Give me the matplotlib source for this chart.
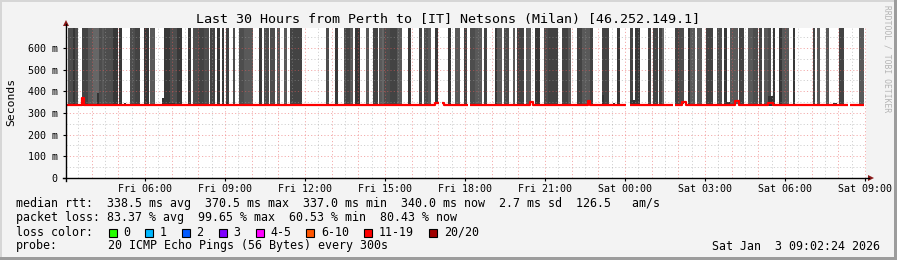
import numpy as np
import matplotlib
matplotlib.use("Agg")
import matplotlib.pyplot as plt
from matplotlib.patches import Rectangle, Polygon
from matplotlib.lines import Line2D

MONO = "DejaVu Sans Mono"
W, H = 897, 260

TITLE = "Last 30 Hours from Perth to [IT] Netsons (Milan) [46.252.149.1]"
START_H = 3 + 2.4 / 60          # window start, hours after Fri 00:00 (Fri 03:02:24)
SPAN_H = 30
STEP_H = 5 / 60                 # one sample every 300 s
N_STEPS = 360

# smoke columns: (first step, end step, shade)
SMOKE_RUNS = [
    (1, 3, "c"), (3, 4, "a"), (4, 5, "c"), (7, 10, "b"), (10, 12, "d"),
    (12, 15, "e"), (15, 16, "c"), (16, 17, "d"), (17, 21, "c"), (21, 23, "a"),
    (24, 25, "a"), (29, 31, "c"), (31, 33, "b"), (35, 37, "a"), (38, 40, "d"),
    (44, 47, "a"), (47, 50, "c"), (50, 52, "a"), (55, 56, "a"), (57, 60, "c"),
    (60, 62, "b"), (62, 64, "c"), (65, 67, "b"), (68, 69, "a"), (70, 71, "a"),
    (72, 73, "b"), (75, 76, "c"), (78, 80, "c"), (80, 84, "d"), (87, 88, "a"),
    (89, 91, "c"), (92, 94, "c"), (95, 96, "d"), (98, 99, "d"), (101, 106, "b"),
    (117, 118, "c"), (121, 122, "a"), (125, 126, "c"), (126, 128, "b"),
    (128, 129, "d"), (130, 132, "a"), (135, 136, "d"), (138, 140, "b"),
    (141, 142, "d"), (142, 143, "e"), (143, 146, "c"), (146, 149, "b"),
    (149, 151, "d"), (154, 155, "a"), (159, 160, "b"), (161, 163, "c"),
    (163, 164, "d"), (166, 167, "a"), (172, 173, "a"), (175, 177, "d"),
    (179, 180, "b"), (182, 184, "c"), (184, 187, "d"), (188, 189, "b"),
    (193, 194, "a"), (194, 196, "d"), (197, 199, "c"), (201, 202, "d"),
    (203, 206, "b"), (207, 209, "d"), (211, 213, "a"), (215, 217, "c"),
    (217, 221, "b"), (223, 226, "b"), (226, 227, "d"), (230, 232, "b"),
    (232, 236, "d"), (236, 237, "b"), (241, 244, "b"), (248, 249, "a"),
    (254, 255, "b"), (256, 258, "a"), (262, 263, "b"), (264, 266, "b"),
    (267, 268, "b"), (268, 269, "e"), (274, 276, "b"), (276, 278, "c"),
    (280, 281, "a"), (281, 283, "d"), (284, 286, "d"), (288, 291, "b"),
    (293, 295, "c"), (296, 297, "a"), (299, 302, "d"), (303, 305, "b"),
    (307, 309, "d"), (309, 311, "c"), (312, 313, "b"), (314, 316, "d"),
    (316, 317, "c"), (318, 319, "a"), (321, 322, "a"), (322, 325, "d"),
    (327, 328, "a"), (336, 337, "b"), (338, 339, "d"), (342, 343, "d"),
    (348, 350, "b"), (357, 359, "d"),
]
SHADES = {"a": "#383838", "b": "#434343", "c": "#4d4d4d",
          "d": "#595959", "e": "#666666"}
SMOKE_TOP_MS = 692

# short smoke tips just above the median: (step, top in ms)
SMOKE_TIPS = [
    (7, 370), (14, 393), (26, 347), (43, 370), (46, 347), (47, 347), (48, 347),
    (68, 348), (72, 350), (241, 383), (246, 347), (254, 360), (255, 360),
    (297, 350), (298, 350), (316, 378), (317, 378), (345, 347), (346, 347),
]

# median rtt in ms as runs (first step, end step, value); None = no data
MEDIAN_RUNS = [
    (0, 7, 339), (7, 8, 370), (8, 166, 339), (166, 168, 348), (168, 169, None),
    (169, 170, 348), (170, 181, 339), (181, 182, None), (182, 209, 339),
    (209, 210, 349), (210, 235, 339), (235, 236, 355), (236, 252, 339),
    (252, 254, None), (254, 273, 339), (273, 274, None), (274, 277, 339),
    (277, 279, 351), (279, 301, 339), (301, 303, 355), (303, 316, 339),
    (316, 318, 347), (318, 352, 339), (352, 353, None), (353, 359, 339),
]

Y_TICKS_MS = [0, 100, 200, 300, 400, 500, 600]
Y_MAX_MS = 692
X_LABEL_HOURS = [6, 9, 12, 15, 18, 21, 24, 27, 30, 33]

LEGEND_LINES = [
    "median rtt:  338.5 ms avg  370.5 ms max  337.0 ms min  340.0 ms now  2.7 ms sd  126.5   am/s",
    "packet loss: 83.37 % avg  99.65 % max  60.53 % min  80.43 % now",
]
LOSS_LABELS = ["0", "1", "2", "3", "4-5", "6-10", "11-19", "20/20"]
LOSS_COLORS = ["#26ff00", "#00b8ff", "#0059ff", "#7e00ff", "#ff00ff",
               "#ff5500", "#ff0000", "#a00000"]
PROBE = "20 ICMP Echo Pings (56 Bytes) every 300s"
STAMP = "Sat Jan  3 09:02:24 2026"


def fx(px):
    return px / W


def fy(py):
    return 1 - py / H


def frame_rect(x0, y0, x1, y1, color):
    # rectangle given in pixel coords (top-left origin)
    fig.patches.append(Rectangle((fx(x0), fy(y1)), fx(x1) - fx(x0), fy(y0) - fy(y1),
                                 transform=fig.transFigure, color=color, lw=0))


fig = plt.figure(figsize=(W / 100, H / 100), dpi=100)
fig.patch.set_facecolor("#f3f3f3")

# 3d-ish frame of the rrdtool canvas
frame_rect(0, 0, W, 2, "#d6d6d6")
frame_rect(0, 0, 2, H, "#d6d6d6")
frame_rect(0, 257, W, H, "#9c9c9c")
frame_rect(894, 0, W, H, "#9c9c9c")

ax = fig.add_axes([fx(66), fy(178), fx(800), fy(28) - fy(178)])
ax.set_facecolor("white")
ax.set_xlim(START_H, START_H + SPAN_H)
ax.set_ylim(0, Y_MAX_MS / 1000)
for s in ax.spines.values():
    s.set_visible(False)

# smoke; each column overlaps its right neighbour a touch so no seams show
pad = 0.25 * STEP_H
for i0, i1, sh in SMOKE_RUNS:
    ax.bar(START_H + i0 * STEP_H, (SMOKE_TOP_MS - 341) / 1000,
           width=(i1 - i0) * STEP_H + pad, bottom=0.341, align="edge",
           color=SHADES[sh], lw=0, zorder=1)
for i, top in SMOKE_TIPS:
    ax.bar(START_H + i * STEP_H, (top - 334) / 1000, width=STEP_H, bottom=0.334,
           align="edge", color="#333333", lw=0, zorder=1.2)

# translucent dotted grid on top of the smoke
GRID_MINOR = dict(color="#9a9a9a", alpha=0.45, lw=0.7, ls=(0, (1.2, 2.2)), zorder=1.5)
GRID_MAJOR = dict(color="#e85a5a", alpha=0.5, lw=0.7, ls=(0, (1.2, 2.2)), zorder=1.5)
hh = np.arange(np.ceil(START_H * 2) / 2, START_H + SPAN_H + 0.01, 0.5)
for h in hh:
    ax.axvline(h, **(GRID_MAJOR if abs(h - round(h)) < 1e-6 else GRID_MINOR))
for v in np.arange(50, Y_MAX_MS, 50):
    ax.axhline(v / 1000, **(GRID_MAJOR if v % 100 == 0 else GRID_MINOR))

# median rtt line
med = np.full(N_STEPS + 1, np.nan)
for i0, i1, v in MEDIAN_RUNS:
    if v is not None:
        med[i0:i1] = v / 1000
med[-1] = med[-2]
t = START_H + np.arange(N_STEPS + 1) * STEP_H
ax.plot(t, med, drawstyle="steps-post", color="#ff0000", lw=1.6, zorder=3,
        solid_capstyle="butt")

# ticks
ax.set_yticks([v / 1000 for v in Y_TICKS_MS])
ax.set_yticklabels(["0" if v == 0 else f"{v} m" for v in Y_TICKS_MS])
ax.set_xticks(X_LABEL_HOURS)
ax.set_xticklabels([f"{'Fri' if h < 24 else 'Sat'} {h % 24:02d}:00" for h in X_LABEL_HOURS])
ax.tick_params(axis="y", length=2, width=0.8, pad=4, labelsize=7.2, colors="#000000")
ax.tick_params(axis="x", length=2, width=0.8, pad=2, labelsize=7.2, colors="#000000")
for lab in ax.get_xticklabels() + ax.get_yticklabels():
    lab.set_family(MONO)

# axis lines with arrows
fig.add_artist(Line2D([fx(66)] * 2, [fy(181), fy(24)], transform=fig.transFigure,
                      color="black", lw=1))
fig.add_artist(Line2D([fx(63), fx(869)], [fy(178)] * 2, transform=fig.transFigure,
                      color="black", lw=1))
fig.patches.append(Polygon([(fx(63), fy(26)), (fx(69), fy(26)), (fx(66), fy(20))],
                           closed=True, transform=fig.transFigure, color="#8b1a1a", lw=0))
fig.patches.append(Polygon([(fx(868), fy(175)), (fx(868), fy(181)), (fx(874), fy(178))],
                           closed=True, transform=fig.transFigure, color="#8b1a1a", lw=0))

# texts
fig.text(fx(448), fy(19), TITLE, ha="center", va="center", family=MONO, fontsize=9.6)
fig.text(fx(11), fy(102), "Seconds", rotation=90, ha="center", va="center",
         family=MONO, fontsize=8.2)
fig.text(fx(887), fy(5), "RRDTOOL / TOBI OETIKER", rotation=270, ha="center", va="top",
         family=MONO, fontsize=5.8, color="#b4b4b4")

for k, line in enumerate(LEGEND_LINES):
    fig.text(fx(16), fy(204 + 14 * k), line, ha="left", va="center", family=MONO,
             fontsize=8.4)
fig.text(fx(16), fy(232), "loss color:", ha="left", va="center", family=MONO, fontsize=8.4)
x = 108.5
for lab, col in zip(LOSS_LABELS, LOSS_COLORS):
    fig.patches.append(Rectangle((fx(x), fy(237)), fx(8), fy(229) - fy(237),
                                 transform=fig.transFigure, facecolor=col,
                                 edgecolor="black", lw=0.8))
    fig.text(fx(x + 14.5), fy(232), lab, ha="left", va="center", family=MONO, fontsize=8.4)
    x += 14.5 + 7.05 * len(lab) + 15.2
fig.text(fx(16), fy(246), "probe:", ha="left", va="center", family=MONO, fontsize=8.4)
fig.text(fx(107.5), fy(246), PROBE, ha="left", va="center", family=MONO, fontsize=8.4)
fig.text(fx(880), fy(246), STAMP, ha="right", va="center", family=MONO, fontsize=8.4)

fig.savefig("out.png", dpi=100, facecolor=fig.get_facecolor())
